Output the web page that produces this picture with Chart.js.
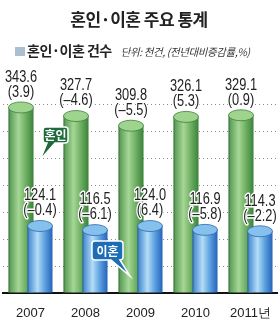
<!DOCTYPE html>
<html>
<head>
<meta charset="utf-8">
<script src="https://cdn.jsdelivr.net/npm/chart.js@4"></script>
<style>
  html, body { margin: 0; padding: 0; background: #fff; }
  #wrap { position: relative; width: 278px; height: 320px; overflow: hidden; }
  #title {
    position: absolute; left: 0; top: 6px; width: 278px; text-align: center;
    font: bold 17px "Noto Sans CJK KR", sans-serif; color: #222; letter-spacing: -0.5px;
  }
  #sub { position: absolute; left: 15px; top: 40px; white-space: nowrap; color: #222; }
  #sub .box { display: inline-block; width: 10px; height: 9px; background: #a9c0d2; margin-right: 2px; }
  #sub .main { font: bold 14px "Noto Sans CJK KR", sans-serif; letter-spacing: -0.5px; }
  #sub .unit { font: italic 10.5px "Noto Sans CJK KR", sans-serif; color: #333; margin-left: 9px; letter-spacing: -0.4px; }
  canvas { position: absolute; left: 0; top: 0; }
</style>
</head>
<body>
<div id="wrap">
  <canvas id="myChart" width="278" height="320"></canvas>
  <div id="title">혼인·이혼 주요 통계</div>
  <div id="sub"><span class="box"></span><span class="main">혼인·이혼 건수</span><span class="unit">단위: 천건, (전년대비증감률,%)</span></div>
</div>
<script>
// Data
const years = ['2007', '2008', '2009', '2010', '2011년'];
const marriages = [343.6, 327.7, 309.8, 326.1, 329.1];
const marriageChange = [3.9, -4.6, -5.5, 5.3, 0.9];
const divorces = [124.1, 116.5, 124.0, 116.9, 114.3];
const divorceChange = [-0.4, -6.1, 6.4, -5.8, -2.2];
const yTicks = [0, 50, 100, 150, 200, 250, 300, 350];

const sans = '"Liberation Sans", Arial, sans-serif';

// Cylinder colours
const styles = [
  { stops: ['#4f954f', '#a6d695', '#6cae62', '#3a823a'], top: '#9fd48e', edge: '#3f7f3f' },
  { stops: ['#3a7fcf', '#b3ddf6', '#5b9fe0', '#2563b8'], top: '#86c0ec', edge: '#2d69ad' }
];

function fmtChange(v) {
  return '(' + (v < 0 ? '\u2013' + Math.abs(v).toFixed(1) : v.toFixed(1)) + ')';
}

// Draw each bar as a cylinder
const cylinders = {
  id: 'cylinders',
  afterDatasetsDraw(chart) {
    const c = chart.ctx;
    chart.data.datasets.forEach((ds, i) => {
      const st = styles[i];
      chart.getDatasetMeta(i).data.forEach(bar => {
        const w = bar.width, left = bar.x - w / 2, ry = 5.5;
        const g = c.createLinearGradient(left, 0, left + w, 0);
        g.addColorStop(0, st.stops[0]);
        g.addColorStop(0.4, st.stops[1]);
        g.addColorStop(0.7, st.stops[2]);
        g.addColorStop(1, st.stops[3]);
        c.save();
        c.fillStyle = g;
        c.fillRect(left, bar.y, w, bar.base - bar.y);
        c.strokeStyle = 'rgba(20,40,20,0.35)';
        c.lineWidth = 1;
        c.beginPath();
        c.moveTo(left + 0.5, bar.y); c.lineTo(left + 0.5, bar.base);
        c.stroke();
        c.beginPath();
        c.ellipse(bar.x, bar.y, w / 2, ry, 0, 0, Math.PI * 2);
        c.fillStyle = st.top;
        c.fill();
        c.strokeStyle = st.edge;
        c.lineWidth = 0.8;
        c.stroke();
        c.restore();
      });
    });
  }
};

// Value labels and callouts
const labels = {
  id: 'labels',
  afterDraw(chart) {
    const c = chart.ctx;
    const sets = [[marriages, marriageChange], [divorces, divorceChange]];
    sets.forEach((s, i) => {
      chart.getDatasetMeta(i).data.forEach((bar, j) => {
        const lines = [s[0][j].toFixed(1), fmtChange(s[1][j])];
        lines.forEach((t, k) => {
          const y = bar.y - (k === 0 ? 30 : 15);
          c.save();
          c.translate(bar.x, y);
          c.scale(0.8, 1);
          c.font = '16px ' + sans;
          c.textAlign = 'center';
          c.textBaseline = 'middle';
          c.lineWidth = 3;
          c.lineJoin = 'round';
          c.strokeStyle = '#fff';
          c.strokeText(t, 0, 0);
          c.fillStyle = '#222';
          c.fillText(t, 0, 0);
          c.restore();
        });
      });
    });

    // callouts
    const g0 = chart.getDatasetMeta(0).data[0];
    const b1 = chart.getDatasetMeta(1).data[1];
    callout(c, g0.x + 22, 127, 25, 16, '혼인', '#1f6a3c', 'left', g0.x + 19, 160);
    callout(c, b1.x - 3, 241, 31, 19, '이혼', '#1c6db6', 'right', b1.x + 35, 276);
  }
};

function callout(c, x, y, w, h, text, color, side, tx, ty) {
  c.save();
  c.beginPath();
  const r = 3;
  c.moveTo(x + r, y);
  c.lineTo(x + w - r, y);
  c.quadraticCurveTo(x + w, y, x + w, y + r);
  c.lineTo(x + w, y + h - r);
  c.quadraticCurveTo(x + w, y + h, x + w - r, y + h);
  if (side === 'right') {
    c.lineTo(x + w - 3, y + h);
    c.lineTo(tx, ty);
    c.lineTo(x + w - 12, y + h);
  } else {
    c.lineTo(x + 12, y + h);
    c.lineTo(tx, ty);
    c.lineTo(x + 4, y + h);
  }
  c.lineTo(x + r, y + h);
  c.quadraticCurveTo(x, y + h, x, y + h - r);
  c.lineTo(x, y + r);
  c.quadraticCurveTo(x, y, x + r, y);
  c.closePath();
  c.fillStyle = color;
  c.fill();
  c.strokeStyle = '#fff';
  c.lineWidth = 1.5;
  c.stroke();
  c.fillStyle = '#fff';
  c.font = 'bold 12px "Noto Sans CJK KR", sans-serif';
  c.textAlign = 'center';
  c.textBaseline = 'middle';
  c.fillText(text, x + w / 2, y + h / 2 + 0.5);
  c.restore();
}

const ctx = document.getElementById('myChart').getContext('2d');

const myChart = new Chart(ctx, {
  type: 'bar',
  data: {
    labels: years,
    datasets: [
      { label: '혼인', data: marriages, backgroundColor: 'rgba(0,0,0,0)' },
      { label: '이혼', data: divorces, backgroundColor: 'rgba(0,0,0,0)' }
    ]
  },
  options: {
    responsive: false,
    animation: false,
    categoryPercentage: 0.69,
    barPercentage: 1.32,
    layout: { padding: { top: 104, left: 3, right: 0, bottom: 0 } },
    plugins: { legend: { display: false }, tooltip: { enabled: false } },
    scales: {
      x: {
        grid: { display: false },
        border: { display: true, color: '#111', width: 2 },
        ticks: { color: '#222', font: { family: sans, size: 13 }, padding: 5 },
        afterFit: scale => { scale.height = 27; }
      },
      y: {
        min: 0,
        max: 350,
        afterBuildTicks: scale => { scale.ticks = yTicks.map(v => ({ value: v })); },
        ticks: { display: false },
        grid: { color: '#8a8a8a', lineWidth: 1, drawTicks: false },
        border: { display: false, dash: [1, 3] },
        afterFit: scale => { scale.width = 0; }
      }
    }
  },
  plugins: [cylinders, labels]
});
</script>
</body>
</html>
